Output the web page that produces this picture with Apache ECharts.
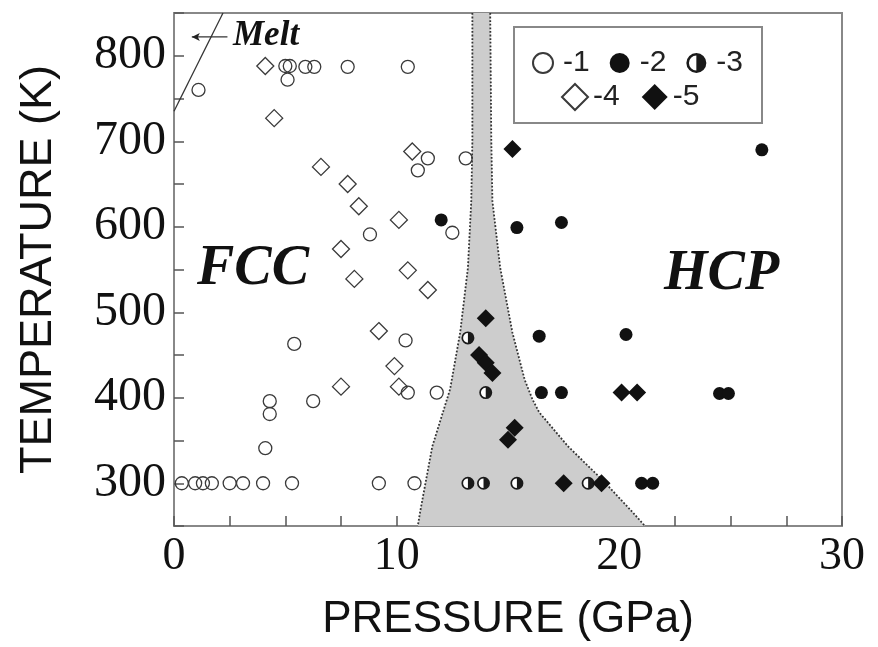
<!DOCTYPE html>
<html>
<head>
<meta charset="utf-8">
<script src="https://cdn.jsdelivr.net/npm/echarts@6/dist/echarts.min.js"></script>
<style>
  html, body { margin: 0; background: #fff; }
  #chart { width: 878px; height: 647px; }
</style>
</head>
<body>
<div id="chart"></div>
<script>
// pressure (GPa), temperature (K)
var openCircles = [
  [1.1, 760], [5.0, 788], [5.2, 788], [5.9, 787], [6.3, 787], [5.1, 772],
  [7.8, 787], [10.5, 787], [10.95, 666], [11.4, 680], [13.1, 680], [12.5, 593],
  [8.8, 591], [5.4, 463], [10.4, 467], [10.5, 406], [4.3, 396], [4.3, 381],
  [6.25, 396], [11.8, 406], [4.1, 341], [0.35, 300], [0.95, 300], [1.3, 300],
  [1.7, 300], [2.5, 300], [3.1, 300], [4.0, 300], [5.3, 300], [9.2, 300], [10.8, 300]
]
var filledCircles = [
  [26.4, 690], [12.0, 608], [15.4, 599], [17.4, 605], [16.4, 472], [20.3, 474],
  [16.5, 406], [17.4, 406], [24.5, 405], [24.9, 405], [21.0, 300], [21.5, 300]
]
var halfCircles = [
  [13.2, 470], [14.0, 406], [13.2, 300], [13.9, 300], [15.4, 300], [18.6, 300]
]
var openDiamonds = [
  [4.1, 788], [4.5, 727], [6.6, 670], [7.8, 650], [8.3, 624], [10.7, 688],
  [10.1, 608], [7.5, 574], [8.1, 539], [10.5, 549], [11.4, 526], [9.2, 478],
  [9.9, 437], [10.1, 413], [7.5, 413]
]
var filledDiamonds = [
  [15.2, 691], [14.0, 493], [13.7, 450], [14.0, 441], [14.3, 429], [15.3, 365],
  [15.0, 351], [20.1, 406], [20.8, 406], [17.5, 300], [19.2, 300]
]
// two-phase region edges, top to bottom
var leftEdge = [
  [13.4, 850], [13.4, 700], [13.35, 630], [13.2, 552], [12.85, 476],
  [12.4, 410], [11.6, 343], [11.05, 266], [10.95, 250]
]
var rightEdge = [
  [14.2, 850], [14.25, 700], [14.3, 630], [14.65, 552], [15.2, 476], [15.75, 421],
  [16.1, 398], [16.4, 383], [17.7, 343], [19.2, 305], [20.6, 266], [21.15, 250]
]
var meltLine = [[0, 735], [2.2, 850]]
var meltArrow = [[2.4, 822], [0.8, 822]]

var halfPath = 'path://M10,0A10,10,0,1,1,10,20A10,10,0,1,1,10,0ZM10,2.6A7.4,7.4,0,0,0,10,17.4L10,2.6Z'
var edge = '#3a3a3a'
var ink = '#111'

var mychart = echarts.init(document.getElementById('chart'))
mychart.setOption({
  animation: false,
  grid: {
    left: 174,
    right: 36,
    top: 13,
    bottom: 120,
    show: true,
    borderColor: '#888',
    borderWidth: 2,
  },
  legend: [
    {
      data: ['-1', '-2', '-3'],
      left: 532,
      top: 48,
      padding: 0,
      z: 10,
      itemWidth: 20,
      itemHeight: 20,
      itemGap: 20,
      selectedMode: false,
      textStyle: { fontFamily: 'Liberation Sans', fontSize: 30, color: '#222', padding: [0, 0, 0, 5] },
    },
    {
      data: ['-4', '-5'],
      left: 561,
      top: 82,
      padding: 0,
      z: 10,
      itemWidth: 26,
      itemHeight: 26,
      itemGap: 22,
      selectedMode: false,
      textStyle: { fontFamily: 'Liberation Sans', fontSize: 30, color: '#222' },
    },
  ],
  graphic: [
    {
      type: 'rect',
      z: 5,
      shape: { x: 514, y: 27, width: 248, height: 96 },
      style: { fill: '#fff', stroke: '#888', lineWidth: 2 },
    },
    {
      type: 'text',
      x: 197,
      y: 270,
      z: 5,
      style: { text: 'FCC', font: 'italic bold 56px "Liberation Serif"', fill: ink, align: 'left', verticalAlign: 'middle' },
    },
    {
      type: 'text',
      x: 664,
      y: 275,
      z: 5,
      style: { text: 'HCP', font: 'italic bold 56px "Liberation Serif"', fill: ink, align: 'left', verticalAlign: 'middle' },
    },
    {
      type: 'text',
      x: 233,
      y: 36,
      z: 5,
      style: { text: 'Melt', font: 'italic bold 35px "Liberation Serif"', fill: ink, align: 'left', verticalAlign: 'middle' },
    },
  ],
  xAxis: {
    type: 'value',
    min: 0,
    max: 30,
    interval: 2.5,
    name: 'PRESSURE (GPa)',
    nameLocation: 'middle',
    nameGap: 72,
    nameTextStyle: { fontFamily: 'Liberation Sans', fontSize: 44, color: ink },
    axisLine: { lineStyle: { color: '#888', width: 2 } },
    axisTick: { inside: true, length: 10, lineStyle: { color: '#555', width: 1.5 } },
    axisLabel: {
      margin: 8,
      fontFamily: 'Liberation Serif',
      fontSize: 46,
      color: ink,
      formatter: function (v) {
        return v % 10 === 0 ? v : ''
      },
    },
    splitLine: { show: false },
  },
  yAxis: {
    type: 'value',
    min: 250,
    max: 850,
    interval: 50,
    name: 'TEMPERATURE (K)',
    nameLocation: 'middle',
    nameGap: 113,
    nameTextStyle: { fontFamily: 'Liberation Sans', fontSize: 45, color: ink },
    axisLine: { lineStyle: { color: '#888', width: 2 } },
    axisTick: { inside: true, length: 10, lineStyle: { color: '#555', width: 1.5 } },
    axisLabel: {
      margin: 8,
      padding: [8, 0, 0, 0],
      fontFamily: 'Liberation Serif',
      fontSize: 48,
      color: ink,
      formatter: function (v) {
        return v % 100 === 0 ? v : ''
      },
    },
    splitLine: { show: false },
  },
  series: [
    {
      // shaded FCC+HCP region
      type: 'custom',
      name: 'mixed',
      z: 1,
      silent: true,
      data: [0],
      renderItem: function (params, api) {
        var pts = leftEdge.concat(rightEdge.slice().reverse()).map(function (p) {
          return api.coord(p)
        })
        return { type: 'polygon', shape: { points: pts }, style: { fill: '#cdcdcd' } }
      },
    },
    {
      type: 'line',
      name: 'leftEdge',
      z: 2,
      silent: true,
      symbol: 'none',
      data: leftEdge,
      lineStyle: { color: '#333', width: 1.8, type: 'dotted' },
    },
    {
      type: 'line',
      name: 'rightEdge',
      z: 2,
      silent: true,
      symbol: 'none',
      data: rightEdge,
      lineStyle: { color: '#333', width: 1.8, type: 'dotted' },
    },
    {
      type: 'line',
      name: 'melt',
      z: 2,
      silent: true,
      symbol: 'none',
      data: meltLine,
      lineStyle: { color: '#333', width: 1.3 },
    },
    {
      type: 'line',
      name: 'meltArrow',
      z: 2,
      silent: true,
      data: [
        { value: meltArrow[0], symbol: 'none' },
        { value: meltArrow[1], symbol: 'arrow', symbolSize: [6, 8], symbolRotate: 90 },
      ],
      itemStyle: { color: '#222' },
      lineStyle: { color: '#333', width: 1.2 },
    },
    {
      type: 'scatter',
      name: '-1',
      z: 3,
      symbol: 'circle',
      symbolSize: 13,
      data: openCircles,
      itemStyle: { color: 'rgba(255,255,255,0)', borderColor: edge, borderWidth: 1.3, opacity: 1 },
    },
    {
      type: 'scatter',
      name: '-2',
      z: 3,
      symbol: 'circle',
      symbolSize: 13,
      data: filledCircles,
      itemStyle: { color: ink, opacity: 1 },
    },
    {
      // white backing behind the half-filled marks
      type: 'scatter',
      name: 'halfBack',
      z: 3,
      silent: true,
      symbol: 'circle',
      symbolSize: 12,
      data: halfCircles,
      itemStyle: { color: '#fff', opacity: 1 },
    },
    {
      type: 'scatter',
      name: '-3',
      z: 4,
      symbol: halfPath,
      symbolSize: 13,
      data: halfCircles,
      itemStyle: { color: '#1a1a1a', opacity: 1 },
    },
    {
      type: 'scatter',
      name: '-4',
      z: 3,
      symbol: 'diamond',
      symbolSize: 17,
      data: openDiamonds,
      itemStyle: { color: 'rgba(255,255,255,0)', borderColor: edge, borderWidth: 1.3, opacity: 1 },
    },
    {
      type: 'scatter',
      name: '-5',
      z: 4,
      symbol: 'diamond',
      symbolSize: 18,
      data: filledDiamonds,
      itemStyle: { color: ink, opacity: 1 },
    },
  ],
})
</script>
</body>
</html>
